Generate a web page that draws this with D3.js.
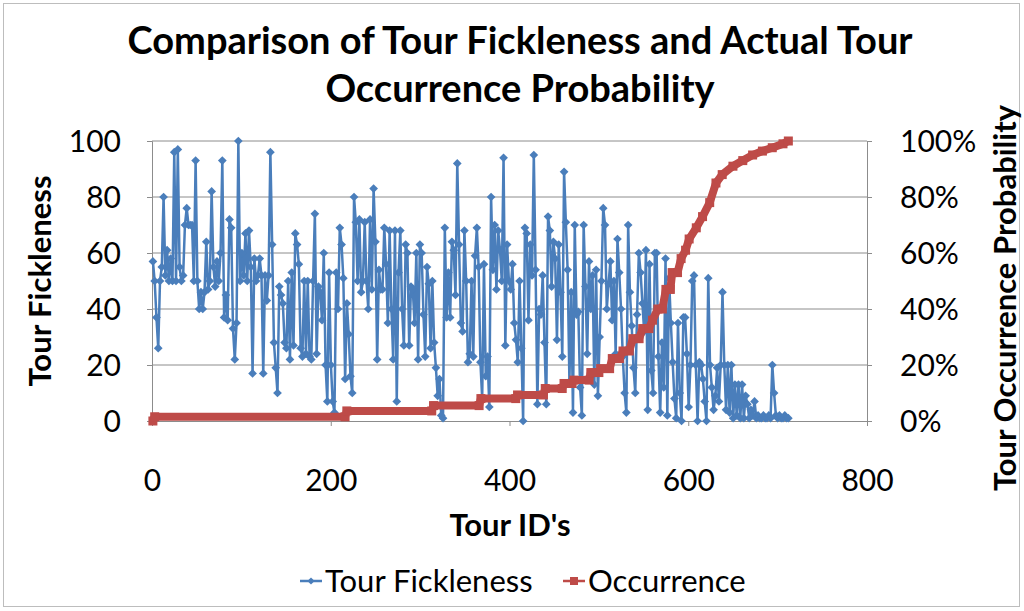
<!DOCTYPE html>
<html>
<head>
<meta charset="utf-8">
<script src="https://cdn.jsdelivr.net/npm/d3@7"></script>
<style>
  body { margin: 0; background: #fff; }
  text { font-family: Lato, "Open Sans", sans-serif; fill: #000; }
</style>
</head>
<body>
<svg id="chart" width="1024" height="611"></svg>
<script>
// fickleness per tour left to right
const fickleness = [
  // ids ~1-118
  57, 50, 37, 26, 50, 55, 80, 52, 61, 50, 58, 50, 96, 50, 97, 55, 50, 52, 70, 76,
  70, 70, 70, 50, 93, 50, 40, 46, 40, 46, 64, 47, 50, 82, 55, 48, 57, 50, 60, 93,
  37, 45, 36, 72, 69, 33, 22, 35, 100, 50, 60, 52, 67, 50, 68, 55, 17, 58, 50,
  // ids ~118-238
  52, 58, 52, 17, 52, 43, 52, 96, 63, 28, 19, 10, 48, 45, 42, 28, 26, 50, 22, 53,
  27, 67, 63, 56, 26, 23, 50, 24, 50, 23, 22, 50, 74, 24, 48, 46, 36, 60, 20, 7,
  53, 20, 7, 3, 53, 40, 69, 63, 51, 15, 42, 31, 16, 10, 80, 71, 50, 72, 46, 50,
  // ids ~238-358
  71, 50, 40, 72, 47, 83, 64, 22, 54, 47, 47, 69, 56, 35, 68, 40, 22, 68, 7, 53,
  68, 40, 27, 63, 60, 27, 48, 47, 35, 60, 22, 63, 60, 38, 23, 55, 49, 26, 50, 28,
  19, 9, 15, 2, 1, 69, 37, 53, 37, 64, 61, 45, 92, 63, 35, 32, 68, 50, 21, 24,
  // ids ~358-478
  50, 23, 59, 69, 55, 21, 8, 56, 16, 23, 5, 80, 54, 70, 47, 68, 61, 50, 94, 27,
  63, 50, 47, 56, 35, 29, 21, 50, 26, 0, 69, 67, 36, 63, 52, 95, 54, 6, 40, 38,
  52, 28, 6, 73, 68, 48, 64, 58, 29, 63, 46, 23, 89, 71, 54, 14, 46, 3, 70, 38,
  // ids ~478-594
  39, 12, 2, 70, 48, 24, 57, 40, 52, 13, 54, 9, 30, 50, 76, 70, 40, 49, 57, 36,
  50, 24, 65, 53, 40, 23, 10, 3, 70, 46, 34, 19, 10, 38, 60, 53, 42, 32, 61, 4,
  56, 18, 10, 60, 60, 23, 3, 28, 12, 58, 2, 51, 35, 21, 8, 1, 35, 10, 0, 37,
  // ids ~594-712
  37, 24, 5, 20, 50, 52, 20, 0, 21, 20, 15, 7, 0, 51, 20, 12, 4, 9, 19, 7,
  20, 46, 20, 4, 20, 3, 20, 1, 13, 2, 13, 1, 13, 1, 9, 6, 1, 4, 2, 7,
  1, 2, 1, 1, 2, 1, 1, 2, 1, 20, 10, 2, 1, 2, 1, 1, 2, 1, 1
];
const firstId = 1, lastId = 712;

// cumulative occurrence probability (tour id, share)
const occIds = [1, 3, 216, 218, 313, 315, 366, 368, 407, 409, 438, 440, 459, 461, 470, 472,
  489, 491, 500, 502, 512, 515, 523, 527, 534, 538, 545, 549, 556, 560, 566, 571,
  575, 580, 582, 588, 592, 597, 601, 609, 616, 624, 631, 638, 650, 661, 672, 683,
  694, 706, 712];
const occValues = [0, 0.015, 0.015, 0.036, 0.036, 0.055, 0.055, 0.08, 0.08, 0.093, 0.093, 0.116,
  0.116, 0.134, 0.134, 0.146, 0.146, 0.173, 0.173, 0.187, 0.187, 0.223, 0.223, 0.25,
  0.25, 0.294, 0.294, 0.33, 0.33, 0.36, 0.40, 0.40, 0.47, 0.47, 0.53, 0.53, 0.58,
  0.61, 0.65, 0.69, 0.73, 0.78, 0.85, 0.88, 0.91, 0.93, 0.95, 0.964, 0.976, 0.99, 1.0];

const xTicks = [0, 200, 400, 600, 800];
const yTicks = [0, 20, 40, 60, 80, 100];
const pTicks = [0, 0.2, 0.4, 0.6, 0.8, 1];

const blue = "#4a7ebb", red = "#be4b48";

const svg = d3.select("#chart");
const margin = { top: 141, right: 157, bottom: 190, left: 152 };
const width = 1024 - margin.left - margin.right,
  height = 611 - margin.top - margin.bottom;

// outer frame
svg.append("rect")
  .attr("x", 3.5).attr("y", 3.5)
  .attr("width", 1016).attr("height", 603)
  .attr("fill", "none").attr("stroke", "#bdbdbd");

const g = svg.append("g").attr("transform", `translate(${margin.left},${margin.top})`);

const x = d3.scaleLinear().domain([0, 800]).range([0, width]);
const y = d3.scaleLinear().domain([0, 100]).range([height, 0]);
const y2 = d3.scaleLinear().domain([0, 1]).range([height, 0]);

// gridlines
g.selectAll(".grid").data(yTicks.slice(1)).join("line")
  .attr("x1", 0).attr("x2", width)
  .attr("y1", (d) => y(d)).attr("y2", (d) => y(d))
  .attr("stroke", "#8c8c8c").attr("stroke-width", 1);

// axes
const xAxis = d3.axisBottom(x).tickValues(xTicks).tickSize(5).tickPadding(54);
const yAxis = d3.axisLeft(y).tickValues(yTicks).tickSize(5).tickPadding(26);
const y2Axis = d3.axisRight(y2).tickValues(pTicks).tickSize(5).tickPadding(28)
  .tickFormat(d3.format(".0%"));

function styleAxis(sel) {
  sel.select(".domain").attr("stroke", "#8c8c8c");
  sel.selectAll(".tick line").attr("stroke", "#8c8c8c");
  sel.selectAll(".tick text").style("font-size", "30px").attr("fill", "#000");
}
g.append("g").attr("transform", `translate(0,${height})`).call(xAxis).call(styleAxis);
g.append("g").call(yAxis).call(styleAxis);
g.append("g").attr("transform", `translate(${width},0)`).call(y2Axis).call(styleAxis);
g.selectAll(".tick text").attr("dy", "0.36em");

// fickleness line
const step = (lastId - firstId) / (fickleness.length - 1);
const fickData = fickleness.map((v, i) => ({ id: firstId + i * step, v }));

g.append("path").datum(fickData)
  .attr("fill", "none").attr("stroke", blue).attr("stroke-width", 2.5)
  .attr("stroke-linejoin", "round")
  .attr("d", d3.line().x((d) => x(d.id)).y((d) => y(d.v)));

// excel style diamond = square turned 45 degrees
const diamond = d3.symbol().type(d3.symbolSquare).size(38);
g.selectAll(".fick-pt").data(fickData).join("path")
  .attr("class", "fick-pt")
  .attr("transform", (d) => `translate(${x(d.id)},${y(d.v)}) rotate(45)`)
  .attr("d", diamond).attr("fill", blue);

// occurrence line
const occData = occIds.map((id, i) => ({ id, v: occValues[i] }));
g.append("path").datum(occData)
  .attr("fill", "none").attr("stroke", red).attr("stroke-width", 8)
  .attr("d", d3.line().x((d) => x(d.id)).y((d) => y2(d.v)));
g.selectAll(".occ-pt").data(occData).join("rect")
  .attr("class", "occ-pt")
  .attr("x", (d) => x(d.id) - 4.5).attr("y", (d) => y2(d.v) - 4.5)
  .attr("width", 9).attr("height", 9).attr("fill", red);

// titles
svg.append("text").attr("x", 520).attr("y", 54).attr("text-anchor", "middle")
  .style("font-size", "38px").style("font-weight", "bold")
  .text("Comparison of Tour Fickleness and Actual Tour");
svg.append("text").attr("x", 520).attr("y", 102).attr("text-anchor", "middle")
  .style("font-size", "38px").style("font-weight", "bold")
  .text("Occurrence Probability");

svg.append("text").attr("x", 510).attr("y", 536).attr("text-anchor", "middle")
  .style("font-size", "31px").style("font-weight", "bold").text("Tour ID's");
svg.append("text").attr("transform", "translate(51,281) rotate(-90)")
  .attr("text-anchor", "middle")
  .style("font-size", "31px").style("font-weight", "bold").text("Tour Fickleness");
svg.append("text").attr("transform", "translate(1016,298) rotate(-90)")
  .attr("text-anchor", "middle")
  .style("font-size", "31px").style("font-weight", "bold").text("Tour Occurrence Probability");

// legend
const legend = [
  { name: "Tour Fickleness", color: blue, x: 300 },
  { name: "Occurrence", color: red, x: 563 }
];
const lg = svg.selectAll(".legend").data(legend).join("g")
  .attr("transform", (d) => `translate(${d.x},581)`);
lg.append("line").attr("x1", 0).attr("x2", 22)
  .attr("stroke", (d) => d.color).attr("stroke-width", 2.5);
lg.filter((d, i) => i === 0).append("path").attr("transform", "translate(11,0) rotate(45)")
  .attr("d", d3.symbol().type(d3.symbolSquare).size(26)).attr("fill", blue);
lg.filter((d, i) => i === 1).append("rect").attr("x", 7).attr("y", -4).attr("width", 8)
  .attr("height", 8).attr("fill", red);
lg.append("text").attr("x", 25).attr("dy", "0.36em")
  .style("font-size", "31px").text((d) => d.name);
</script>
</body>
</html>
